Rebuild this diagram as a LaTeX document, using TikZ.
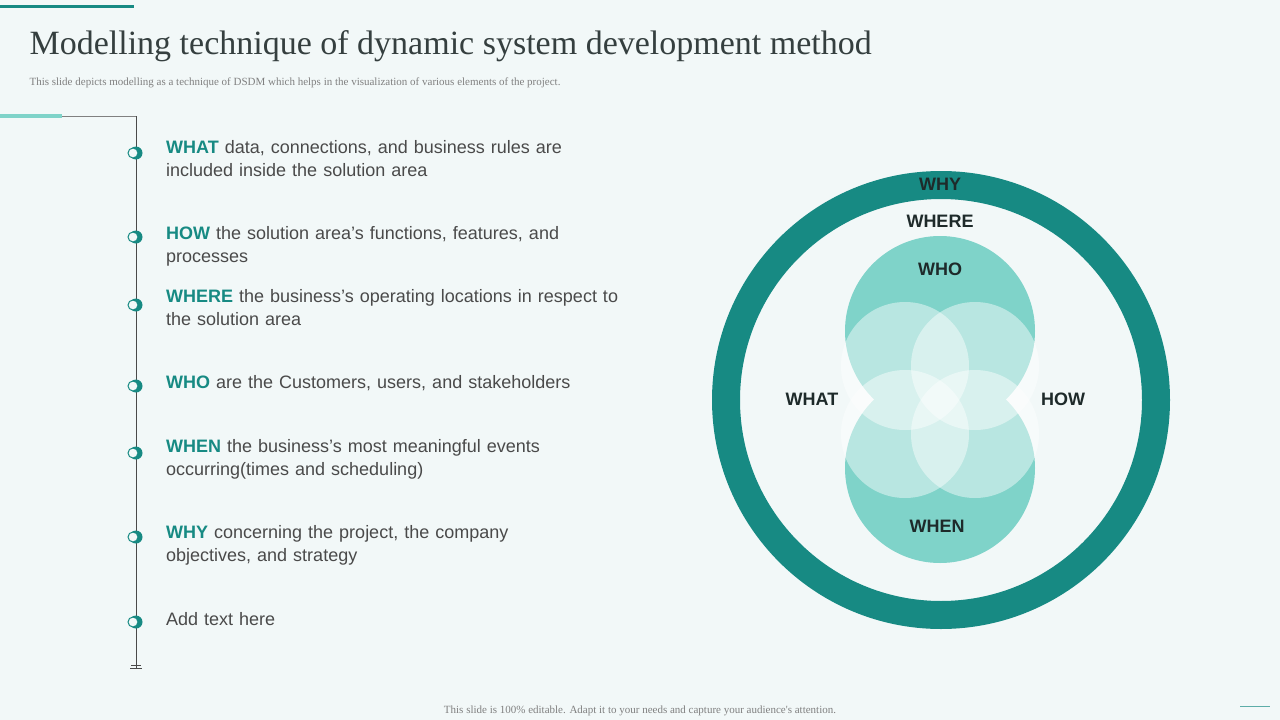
\documentclass[tikz,border=0pt]{standalone}
\usepackage{fontspec}
\setmainfont{Liberation Sans}
\newfontfamily\serif{Liberation Serif}
\definecolor{bg}{HTML}{F2F8F8}
\definecolor{teal}{HTML}{178A83}
\definecolor{lteal}{HTML}{7FD3C9}
\definecolor{txt}{HTML}{4A4A4A}
\definecolor{dark}{HTML}{1E2A2A}
\tikzset{
 body/.style={anchor=north west,align=left,text width=480pt,font=\fontsize{18}{23}\selectfont,text=txt,inner sep=0},
 kw/.style={},
 lbl/.style={font=\bfseries\fontsize{18}{20}\selectfont,text=dark},
 lobe/.style={fill=white,fill opacity=0.45}
}
\newcommand{\kwd}[1]{\textbf{\color{teal}#1}}
\newcommand{\marker}[2]{\node[circle,fill=teal,minimum size=13pt,inner sep=0] (#1) at (136,#2) {};
 \fill[bg,draw=teal,line width=1pt] (133,#2) circle (5pt);}
\begin{document}
\begin{tikzpicture}[x=1pt,y=-1pt]
\fill[bg] (0,0) rectangle (1280,720);
\useasboundingbox (0,0) rectangle (1280,720);
\draw[teal,line width=3pt] (0,6) -- (134,6);
\draw[lteal,line width=4pt] (0,116) -- (62,116);
\draw[gray,line width=0.8pt] (62,116) -- (136,116) coordinate (tl);
\coordinate (bl) at (136,668);
\draw[txt,line width=0.8pt] (tl) -- (bl);
\draw[txt,line width=0.8pt] (130,668) -- (142,668) (131,665) -- (141,665);
\draw[teal!70,line width=1pt] (1240,706) -- (1270,706);
\node[anchor=west,font=\serif\fontsize{34}{36}\selectfont,text=dark!90] (title) at (26,46) {Modelling technique of dynamic system development method};
\node[anchor=west,font=\serif\fontsize{11}{12}\selectfont,text=gray] (sub) at (26,83) {This slide depicts modelling as a technique of DSDM which helps in the visualization of various elements of the project.};
\node[font=\serif\fontsize{11}{12}\selectfont,text=gray] (foot) at (640,711) {This slide is 100\% editable. Adapt it to your needs and capture your audience's attention.};
\marker{m1}{153}\marker{m2}{237}\marker{m3}{305}\marker{m4}{386}\marker{m5}{453}\marker{m6}{537}\marker{m7}{622}
\node[body] (t1) at (166,140) {\kwd{WHAT} data, connections, and business rules are\\included inside the solution area};
\node[body] (t2) at (166,226) {\kwd{HOW} the solution area's functions, features, and\\processes};
\node[body] (t3) at (166,289) {\kwd{WHERE} the business's operating locations in respect to\\the solution area};
\node[body] (t4) at (166,375) {\kwd{WHO} are the Customers, users, and stakeholders};
\node[body] (t5) at (166,439) {\kwd{WHEN} the business's most meaningful events\\occurring(times and scheduling)};
\node[body] (t6) at (166,525) {\kwd{WHY} concerning the project, the company\\objectives, and strategy};
\node[body] (t7) at (166,612) {Add text here};
% ring
\draw[teal,line width=28pt] (941,400) circle (215);
\fill[lteal] (940,331) circle (95);
\fill[lteal] (940,468) circle (95);
\fill[lobe] (905,366) circle (64);
\fill[lobe] (905,434) circle (64);
\fill[lobe] (975,366) circle (64);
\fill[lobe] (975,434) circle (64);
\node[lbl] (why) at (940,184) {WHY};
\node[lbl] (where) at (940,221) {WHERE};
\node[lbl] (who) at (940,269) {WHO};
\node[lbl] (what) at (812,399) {WHAT};
\node[lbl] (how) at (1063,399) {HOW};
\node[lbl] (when) at (937,526) {WHEN};
\end{tikzpicture}
\end{document}
